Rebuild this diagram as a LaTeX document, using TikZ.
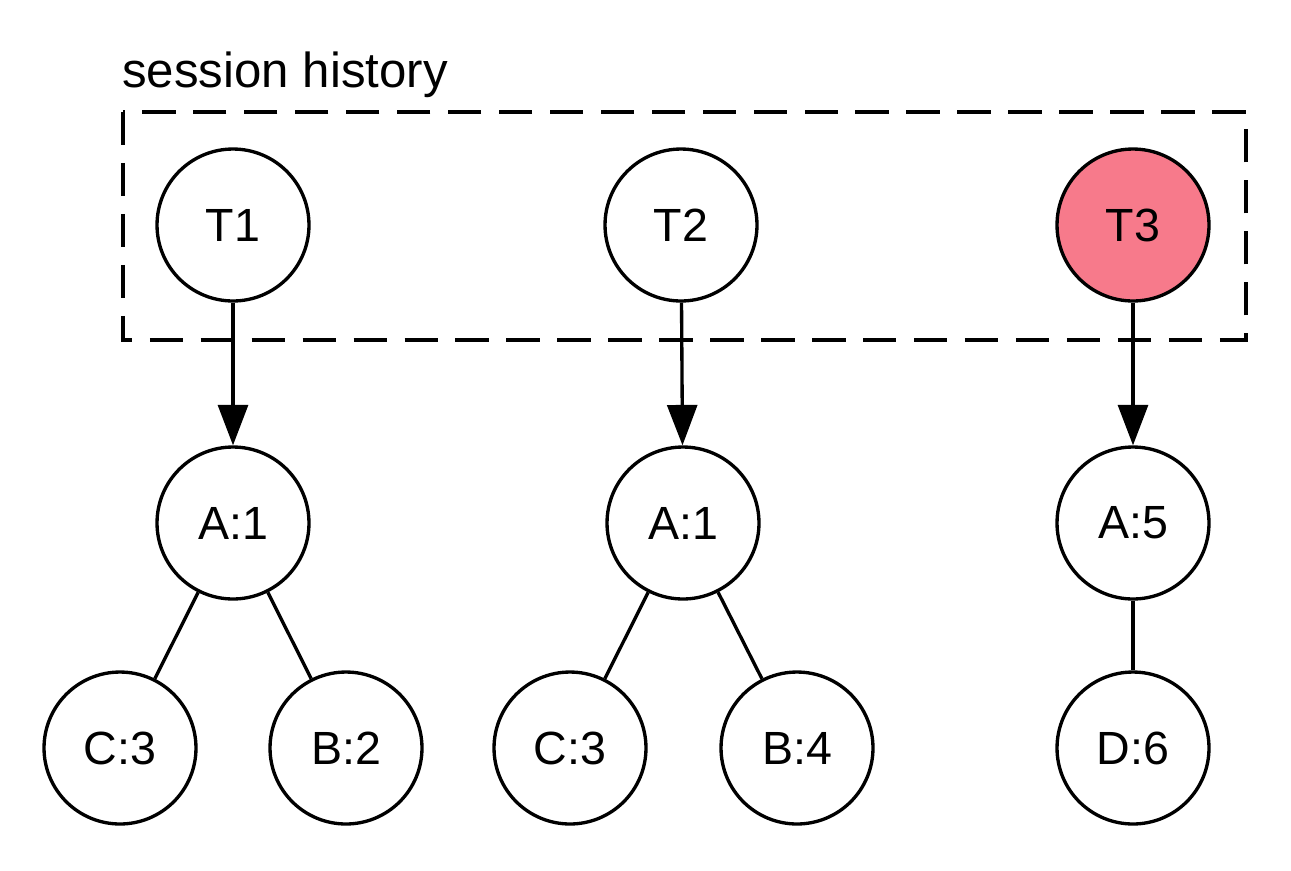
\documentclass[tikz,border=0pt]{standalone}
\usepackage{fontspec}
\setmainfont{Liberation Sans}
\usetikzlibrary{arrows.meta}
\definecolor{tpink}{RGB}{247,122,139}
\begin{document}
\begin{tikzpicture}[x=0.02cm,y=-0.02cm,
  tnode/.style={circle,draw=black,line width=1.9pt,minimum size=3.04cm,inner sep=0pt,font=\fontsize{26.5}{30}\selectfont},
  link/.style={line width=1.9pt},
  arr/.style={line width=1.9pt,-{Triangle[width=17pt,length=23pt]}},
  grp/.style={draw=black,line width=1.9pt,dash pattern=on 19pt off 10pt}]
\useasboundingbox (0,0) rectangle (1291,870);
\node[anchor=base west,inner sep=0pt,font=\fontsize{28}{32}\selectfont] (lbl) at (122,87) {session history};
\draw[grp] (123,112) rectangle (1246,340);
\node[tnode] (t1) at (233,225) {T1};
\node[tnode] (t2) at (681,225) {T2};
\node[tnode,fill=tpink] (t3) at (1133,225) {T3};
\node[tnode] (a1) at (233,523) {A:1};
\node[tnode] (a2) at (683,523) {A:1};
\node[tnode] (a3) at (1133,523) {A:5};
\node[tnode] (c1) at (120,748) {C:3};
\node[tnode] (b1) at (346,748) {B:2};
\node[tnode] (c2) at (570,748) {C:3};
\node[tnode] (b2) at (797,748) {B:4};
\node[tnode] (d3) at (1133,748) {D:6};
\draw[arr] (t1) -- (a1);
\draw[arr] (t2) -- (a2);
\draw[arr] (t3) -- (a3);
\draw[link] (a1) -- (c1);
\draw[link] (a1) -- (b1);
\draw[link] (a2) -- (c2);
\draw[link] (a2) -- (b2);
\draw[link] (a3) -- (d3);
\end{tikzpicture}
\end{document}
